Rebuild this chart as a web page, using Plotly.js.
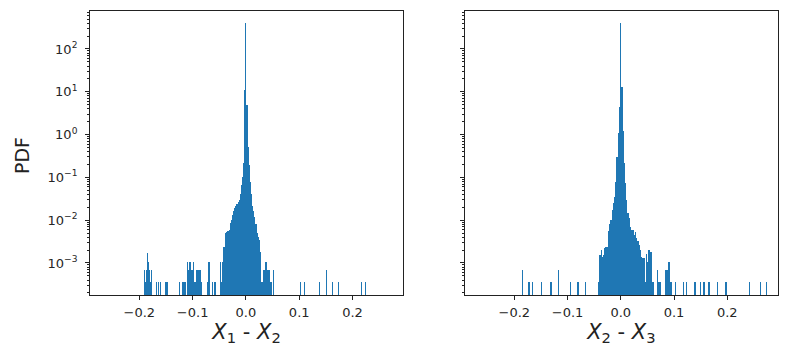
<!DOCTYPE html>
<html>
<head>
<meta charset="utf-8">
<script src="https://cdn.plot.ly/plotly-3.0.1.min.js"></script>
<style>
  html, body { margin: 0; padding: 0; background: #fff; }
  #chart { width: 789px; height: 357px; }
</style>
</head>
<body>
<div id="chart"></div>
<script>
// histogram bin widths (data units) for the two panels
var leftBinWidth = 0.0021;
var rightBinWidth = 0.0023;

// X1 - X2 : non-empty bins (bin index, centre = index * width) and their PDF
var leftBins = [-91, -90, -89, -88, -87, -86, -85, -84, -80, -78, -76, -72, -71, -70,
    -59, -57, -56, -55, -54, -52, -51, -50, -49, -48, -47, -46, -45, -44, -43, -42, -41, -40,
    -34, -33, -30, -28, -27, -23, -22,
    -21, -20, -19, -18, -17, -16, -15, -14, -13, -12, -11, -10, -9, -8, -7, -6, -5, -4, -3, -2, -1,
    0, 1, 2, 3, 4, 5, 6, 7, 8, 9, 10, 11, 12, 13, 14, 15, 16, 17, 18, 19, 20, 21, 22, 23, 25,
    49, 52, 66, 72, 77, 83, 103, 107];
var leftPdf = [7e-4, 3.5e-4, 7e-4, 1.75e-3, 1.05e-3, 7e-4, 3.5e-4, 7e-4, 3.5e-4, 3.5e-4, 3.5e-4, 3.5e-4, 3.5e-4, 3.5e-4,
    3.5e-4, 3.5e-4, 3.5e-4, 3.5e-4, 3.5e-4, 1.05e-3, 7e-4, 1.05e-3, 7e-4, 7e-4, 1.05e-3, 3.5e-4, 3.5e-4, 7e-4, 7e-4, 7e-4, 7e-4, 3.5e-4,
    3.5e-4, 1.05e-3, 3.5e-4, 3.5e-4, 3.5e-4, 1.05e-3, 3.5e-4,
    1.05e-3, 2.4e-3, 2.4e-3, 5.0e-3, 5.4e-3, 5.5e-3, 5.8e-3, 8.5e-3, 1.0e-2, 1.3e-2, 1.6e-2, 1.9e-2, 2.2e-2, 2.4e-2, 2.7e-2, 3.0e-2, 4.0e-2, 0.065, 0.1, 0.22, 11,
    400, 4.9, 0.5, 0.2, 0.08, 0.04, 0.021, 0.016, 0.012, 8e-3, 5e-3, 4e-3, 3.5e-3, 1.8e-3, 3.5e-4, 3.5e-4, 7e-4, 7e-4, 1.05e-3, 7e-4, 7e-4, 7e-4, 3.5e-4, 3.5e-4, 7e-4,
    3.5e-4, 3.5e-4, 3.5e-4, 7e-4, 3.5e-4, 3.5e-4, 3.5e-4, 3.5e-4];

// X2 - X3
var rightBins = [-80, -75, -72, -65, -57, -51, -41, -35, -29,
    -18, -17, -16, -15, -14, -13, -12, -11, -10, -9, -8, -7, -6, -5, -4, -3, -2, -1,
    0, 1, 2, 3, 4, 5, 6, 7, 8, 9, 10, 11, 12, 13, 14, 15, 16, 17, 18, 19, 20,
    21, 22, 23, 24, 25, 26, 27, 30, 31, 32, 37, 38, 39, 40, 41,
    45, 51, 54, 60, 61, 65, 68, 72, 79, 86, 105, 114, 119];
var rightPdf = [7e-4, 3.5e-4, 3.5e-4, 3.5e-4, 3.5e-4, 7e-4, 3.5e-4, 3.5e-4, 3.5e-4,
    3.5e-4, 1.5e-3, 2.0e-3, 1.4e-3, 1.5e-3, 2.2e-3, 2.3e-3, 2.4e-3, 5.5e-3, 8e-3, 1.0e-2, 1.7e-2, 2.5e-2, 3.5e-2, 0.08, 0.3, 1.1, 4.5,
    400, 13, 1.2, 0.22, 0.075, 0.03, 0.015, 0.011, 7e-3, 6e-3, 6e-3, 4.5e-3, 5.4e-3, 3.9e-3, 3.2e-3, 2.6e-3, 2.0e-3, 1.4e-3, 1.3e-3, 1.3e-3, 3.5e-4,
    1.6e-3, 1.05e-3, 2.0e-3, 1.8e-3, 1.8e-3, 3.5e-4, 3.5e-4, 7e-4, 3.5e-4, 3.5e-4, 7e-4, 7e-4, 1.05e-3, 1.05e-3, 3.5e-4,
    3.5e-4, 3.5e-4, 3.5e-4, 3.5e-4, 3.5e-4, 3.5e-4, 3.5e-4, 3.5e-4, 3.5e-4, 3.5e-4, 3.5e-4, 3.5e-4, 3.5e-4];

var xTicks = [-0.2, -0.1, 0.0, 0.1, 0.2];
var yTicks = [1e-3, 1e-2, 1e-1, 1, 10, 100];
var yTickText = ["10<sup>\u22123</sup>", "10<sup>\u22122</sup>", "10<sup>\u22121</sup>",
    "10<sup>0</sup>", "10<sup>1</sup>", "10<sup>2</sup>"];

var blue = "#1f77b4";

function centres(bins, w) {
    return bins.map(function (k) { return k * w; });
}

// minor ticks 2..9 x 10^n
var minorTicks = [];
for (var p = -4; p <= 2; p++) {
    for (var m = 2; m <= 9; m++) {
        minorTicks.push(m * Math.pow(10, p));
    }
}

var data = [
    {
        type: "bar",
        x: centres(leftBins, leftBinWidth),
        y: leftPdf,
        width: leftBinWidth,
        marker: { color: blue, line: { width: 0 } },
        xaxis: "x",
        yaxis: "y",
        hoverinfo: "x+y"
    },
    {
        type: "bar",
        x: centres(rightBins, rightBinWidth),
        y: rightPdf,
        width: rightBinWidth,
        marker: { color: blue, line: { width: 0 } },
        xaxis: "x2",
        yaxis: "y2",
        hoverinfo: "x+y"
    }
];

var tickFont = { family: "DejaVu Sans, sans-serif", size: 13, color: "#262626" };

function xAxis(domain, anchor, title) {
    return {
        domain: domain,
        anchor: anchor,
        range: [-0.2925, 0.2948],
        tickmode: "array",
        tickvals: xTicks,
        tickformat: ".1f",
        ticks: "outside",
        ticklen: 4,
        tickcolor: "#222",
        tickfont: tickFont,
        ticklabelstandoff: 1,
        showline: true,
        mirror: true,
        linecolor: "#222",
        linewidth: 1,
        showgrid: false,
        zeroline: false,
        automargin: false,
        title: { text: title, standoff: 4, font: { family: "DejaVu Sans, sans-serif", size: 21, color: "#222" } }
    };
}

function yAxis(anchor, showLabels) {
    return {
        type: "log",
        domain: [0.1737, 0.9692],
        anchor: anchor,
        range: [-3.748, 2.888],
        tickmode: "array",
        tickvals: yTicks,
        ticktext: yTickText,
        showticklabels: showLabels,
        ticks: "outside",
        ticklen: 4,
        tickcolor: "#222",
        tickfont: tickFont,
        ticklabelstandoff: 5,
        minor: { tickmode: "array", tickvals: minorTicks, ticks: "outside", ticklen: 2, tickcolor: "#222", showgrid: false },
        showline: true,
        mirror: true,
        linecolor: "#222",
        linewidth: 1,
        showgrid: false,
        zeroline: false,
        automargin: false
    };
}

var layout = {
    width: 789,
    height: 357,
    margin: { l: 0, r: 0, t: 0, b: 0 },
    paper_bgcolor: "#fff",
    plot_bgcolor: "#fff",
    showlegend: false,
    bargap: 0,
    xaxis: xAxis([0.1141, 0.5108], "y", "<i>X</i><sub>1</sub> - <i>X</i><sub>2</sub>"),
    xaxis2: xAxis([0.5894, 0.9857], "y2", "<i>X</i><sub>2</sub> - <i>X</i><sub>3</sub>"),
    yaxis: yAxis("x", true),
    yaxis2: yAxis("x2", false),
    // y-axis label of the left panel
    annotations: [{
        text: "PDF",
        xref: "paper",
        yref: "paper",
        x: 22 / 789,
        y: 0.563,
        xanchor: "center",
        yanchor: "middle",
        textangle: -90,
        showarrow: false,
        font: { family: "DejaVu Sans, sans-serif", size: 19, color: "#222" }
    }]
};

Plotly.newPlot("chart", data, layout, { displayModeBar: false, staticPlot: true });
</script>
</body>
</html>
